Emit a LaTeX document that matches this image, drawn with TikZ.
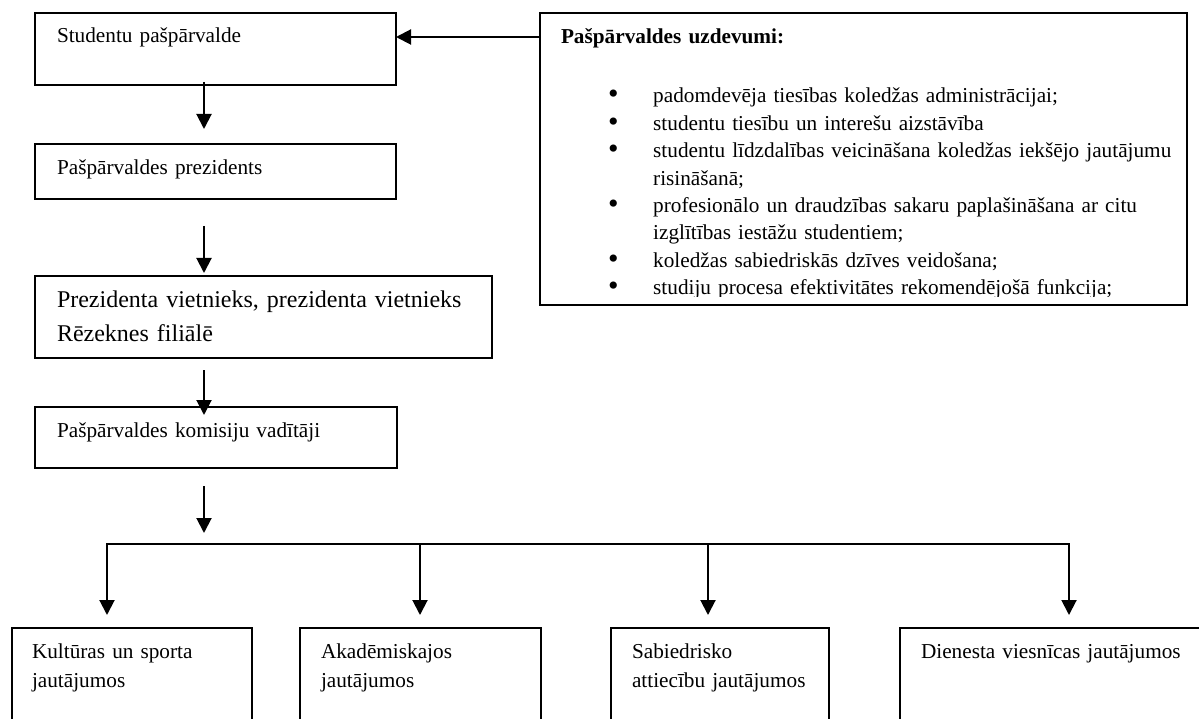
\documentclass[tikz,border=0pt]{standalone}
\usepackage{fontspec}
\setmainfont{Liberation Serif}
\usetikzlibrary{arrows.meta, positioning}

\newcommand{\duty}[1]{\makebox[45pt][l]{\raisebox{-1pt}{\fontsize{30}{0}\selectfont\textbullet}}#1}
\newcommand{\dutycont}[1]{\hspace*{45pt}#1}

\begin{document}
\begin{tikzpicture}[
    x=1pt, y=-1pt,
    unit/.style={rectangle, draw, line width=2pt, outer sep=0pt, anchor=north west, inner xsep=22pt, inner ysep=0pt, align=left, text height=30pt, font=\fontsize{21.25}{29}\selectfont},
    arrow/.style={-{Triangle[width=15pt, length=15pt]}, line width=2pt}
]
\useasboundingbox (0,0) rectangle (1199,719);
\clip (0,0) rectangle (1199,719);

\node[unit, text width=317pt, text depth=42pt] (council) at (35,13) {Studentu pašpārvalde};
\node[unit, text width=317pt, text height=31pt, text depth=24pt, below=59pt of council.south west, anchor=north west] (president) {Pašpārvaldes prezidents};
\node[unit, text width=413pt, text height=32pt, text depth=50pt, font=\fontsize{24}{33}\selectfont, below=77pt of president.south west, anchor=north west] (vice) {Prezidenta vietnieks, prezidenta vietnieks\\Rēzeknes filiālē};
\node[unit, text width=318pt, text depth=31pt, below=49pt of vice.south west, anchor=north west] (heads) {Pašpārvaldes komisiju vadītāji};

\node[unit, inner xsep=20pt, text width=200pt, text depth=120pt] (culture) at (12,628) {Kultūras un sporta\\jautājumos};
\node[unit, inner xsep=21pt, text width=199pt, text depth=120pt, right=48pt of culture.north east, anchor=north west] (academic) {Akadēmiskajos\\jautājumos};
\node[unit, inner xsep=21pt, text width=176pt, text depth=120pt, right=70pt of academic.north east, anchor=north west] (public) {Sabiedrisko\\attiecību jautājumos};
\node[unit, inner xsep=21pt, text width=320pt, text depth=120pt, right=71pt of public.north east, anchor=north west] (dorm) {Dienesta viesnīcas jautājumos};

\node[unit, inner xsep=21pt, text width=605pt, text height=31pt, text depth=261pt, font=\bfseries\fontsize{21.25}{27.4}\selectfont] (duties) at (540,13) {Pašpārvaldes uzdevumi:};
\begin{scope}
\clip (541,60) rectangle (1186,297);
\node[anchor=base west, inner sep=0pt, text width=575pt, align=left, font=\fontsize{21.25}{27.4}\selectfont] (tasks) at (608,103) {\duty{padomdevēja tiesības koledžas administrācijai;}\\
\duty{studentu tiesību un interešu aizstāvība}\\
\duty{studentu līdzdalības veicināšana koledžas iekšējo jautājumu}\\
\dutycont{risināšanā;}\\
\duty{profesionālo un draudzības sakaru paplašināšana ar citu}\\
\dutycont{izglītības iestāžu studentiem;}\\
\duty{koledžas sabiedriskās dzīves veidošana;}\\
\duty{studiju procesa efektivitātes rekomendējošā funkcija;}};
\end{scope}

\coordinate (link) at (0,37);
\coordinate (spine) at (204,0);
\coordinate (bus) at (0,544);
\coordinate (b1) at (107,544);
\coordinate (b2) at (420,544);
\coordinate (b3) at (708,544);
\coordinate (b4) at (1069,544);

\draw[arrow] (duties.west |- link) -- (council.east |- link);
\draw[arrow, shorten <=-3pt, shorten >=15pt] (council.south -| spine) -- (president.north -| spine);
\draw[arrow, shorten <=27pt, shorten >=3pt] (president.south -| spine) -- (vice.north -| spine);
\draw[arrow, shorten <=12pt, shorten >=-8pt] (vice.south -| spine) -- (heads.north -| spine);
\draw[arrow, shorten <=18pt, shorten >=11pt] (heads.south -| spine) -- (spine |- bus);

\draw[line width=2pt, line cap=rect] (b1) -- (b4);
\draw[arrow, shorten >=13pt] (b1) -- (b1 |- culture.north);
\draw[arrow, shorten >=13pt] (b2) -- (b2 |- academic.north);
\draw[arrow, shorten >=13pt] (b3) -- (b3 |- public.north);
\draw[arrow, shorten >=13pt] (b4) -- (b4 |- dorm.north);

\end{tikzpicture}
\end{document}
